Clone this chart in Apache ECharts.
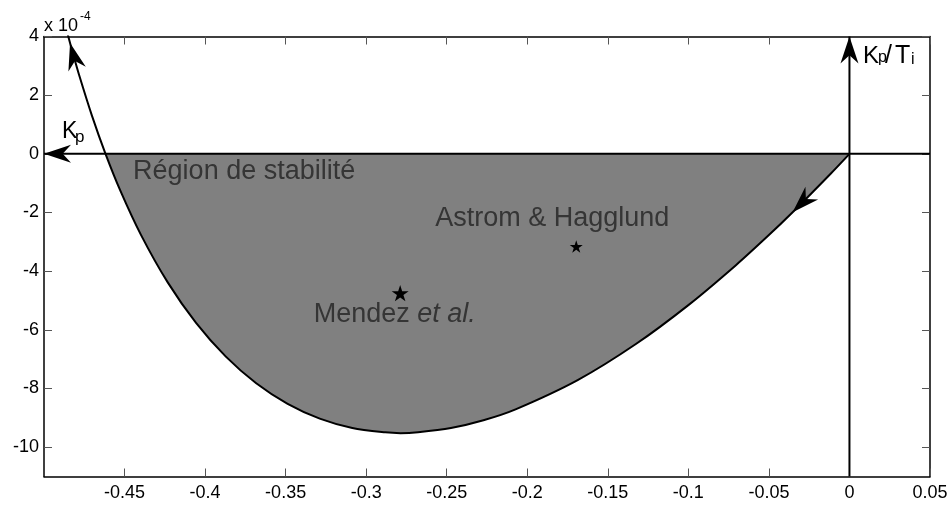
<!DOCTYPE html>
<html>
<head>
<meta charset="utf-8">
<script src="https://cdn.jsdelivr.net/npm/echarts@6.0.0/dist/echarts.min.js"></script>
<style>html,body{margin:0;padding:0;background:#fff}#c{width:950px;height:505px}</style>
</head>
<body>
<div id="c"></div>
<script>
// ---- data (Kp on x, Kp/Ti on y in units of 1e-4) ----
const curveX = [-0.48535, -0.48383, -0.48230, -0.47839, -0.47020, -0.46182, -0.45255, -0.43989, -0.42319, -0.40561,
                -0.38726, -0.36827, -0.34875, -0.32882, -0.30861, -0.28821, -0.27870, -0.26778, -0.24739, -0.22719,
                -0.20727, -0.16872, -0.13258, -0.09960, -0.07048, -0.05035, -0.03528, -0.01168, 0];
const curveY = [4.089, 3.778, 3.470, 2.719, 1.293, 0, -1.263, -2.753, -4.383, -5.763,
                -6.905, -7.821, -8.523, -9.027, -9.346, -9.495, -9.522, -9.490, -9.347, -9.082,
                -8.711, -7.714, -6.484, -5.140, -3.796, -2.787, -1.991, -0.678, 0];
const arrowIdx = [1, 26];                 // curve points where the direction arrows sit
const starX = [-0.1696, -0.2789];
const starY = [-3.16, -4.75];
const annoText = ['Région de stabilité', 'Astrom & Hagglund', 'Mendez et al.'];
const annoX = [-0.4447, -0.1845, -0.2823];
const annoY = [-0.61, -2.22, -5.49];
const xTicks = [-0.45, -0.4, -0.35, -0.3, -0.25, -0.2, -0.15, -0.1, -0.05, 0, 0.05];
const yTicks = [-10, -8, -6, -4, -2, 0, 2, 4];
const X_MIN = -0.5, X_MAX = 0.05, Y_MIN = -11, Y_MAX = 4;

// ---- styles ----
const FONT = '"Liberation Sans", Arial, sans-serif';
const ARROW = 'path://M0,0L9,26L0,18L-9,26Z';
const ARROW_SIZE = [18, 27];
const STAR = 'path://M0,-50L11.23,-15.45L47.55,-15.45L18.16,5.9L29.39,40.45L0,19.1L-29.39,40.45L-18.16,5.9L-47.55,-15.45L-11.23,-15.45Z';
const STAR_SIZES = [13, 17];
const ANNO_ALIGN = ['left', 'center', 'center'];

const curveData = curveX.map((x, i) => [x, curveY[i]]);
const fillData = curveData.filter(p => p[1] <= 0);

function xAxisDef(pos, showLabel) {
  return {
    type: 'value', position: pos, min: X_MIN, max: X_MAX,
    axisLine: { show: true, onZero: false, lineStyle: { color: '#000', width: 1.5 } },
    axisTick: { show: true, inside: true, length: 8, customValues: xTicks, lineStyle: { color: '#555', width: 1 } },
    axisLabel: { show: showLabel, customValues: xTicks, formatter: v => String(v), color: '#000',
                 fontSize: 18, fontFamily: FONT, margin: 8 },
    splitLine: { show: false }
  };
}
function yAxisDef(pos, showLabel) {
  return {
    type: 'value', position: pos, min: Y_MIN, max: Y_MAX,
    axisLine: { show: true, onZero: false, lineStyle: { color: '#000', width: 1.5 } },
    axisTick: { show: true, inside: true, length: 8, customValues: yTicks, lineStyle: { color: '#555', width: 1 } },
    axisLabel: { show: showLabel, customValues: yTicks, formatter: v => String(v), color: '#000',
                 fontSize: 18, fontFamily: FONT, margin: 5 },
    splitLine: { show: false }
  };
}
function txt(x, y, text, size) {
  return { type: 'text', x: x, y: y, silent: true,
           style: { text: text, font: size + 'px ' + FONT, fill: '#000',
                    verticalAlign: 'middle', textVerticalAlign: 'middle' } };
}

const chart = echarts.init(document.getElementById('c'));
chart.setOption({
  animation: false,
  backgroundColor: '#fff',
  grid: { left: 44, right: 20, top: 36.5, bottom: 28.5, containLabel: false, outerBoundsMode: 'none' },
  xAxis: [xAxisDef('bottom', true), xAxisDef('top', false)],
  yAxis: [yAxisDef('left', true), yAxisDef('right', false)],
  graphic: [
    txt(44, 26, 'x 10', 18), txt(80, 16.5, '-4', 12),
    txt(62, 132, 'K', 23), txt(75, 137, 'p', 17),
    txt(863, 56.3, 'K', 24), txt(878, 58, 'p', 16), txt(885, 56.3, '/', 25),
    txt(895, 56.3, 'T', 25), txt(911, 59.5, 'i', 16)
  ],
  series: [
    { type: 'line', data: fillData, smooth: 0.3, symbol: 'none', silent: true, z: 1,
      lineStyle: { width: 0, opacity: 0 }, areaStyle: { color: '#808080', opacity: 1, origin: 'auto' } },
    { type: 'line', data: curveData, smooth: 0.3, symbol: 'none', silent: true, z: 3,
      lineStyle: { color: '#000', width: 2 } },
    { type: 'line', data: [[X_MAX, 0], [X_MIN, 0]], symbol: 'none', silent: true, z: 4,
      lineStyle: { color: '#000', width: 2 } },
    { type: 'line', data: [[0, Y_MIN], [0, Y_MAX]], symbol: 'none', silent: true, z: 4,
      lineStyle: { color: '#000', width: 2 } },
    { type: 'scatter', symbol: STAR, symbolKeepAspect: true, silent: true, z: 5,
      itemStyle: { color: '#000', opacity: 1 },
      data: starX.map((x, i) => ({ value: [x, starY[i]], symbolSize: STAR_SIZES[i] })) },
    { type: 'scatter', symbolSize: 1, silent: true, z: 6,
      itemStyle: { color: 'rgba(0,0,0,0)' },
      label: { show: true, position: 'inside', color: '#222', fontSize: 27, fontFamily: FONT,
               verticalAlign: 'middle',
               formatter: p => annoText[p.dataIndex].replace('et al.', '{i|et al.}'),
               rich: { i: { fontSize: 27, fontFamily: FONT, fontStyle: 'italic', color: '#222' } } },
      data: annoX.map((x, i) => ({ value: [x, annoY[i]], label: { align: ANNO_ALIGN[i] } })) },
    { id: 'arrows', type: 'scatter', symbol: ARROW, symbolSize: ARROW_SIZE, clip: false, silent: true, z: 7,
      itemStyle: { color: '#000', opacity: 1 }, data: [] }
  ]
});

const toPx = p => chart.convertToPixel({ xAxisIndex: 0, yAxisIndex: 0 }, p);
function arrowItem(tip, from, to) {
  const a = toPx(to), b = toPx(from);
  let dx = a[0] - b[0], dy = a[1] - b[1];
  const n = Math.hypot(dx, dy); dx /= n; dy /= n;
  return { value: tip, symbolRotate: Math.atan2(-dx, -dy) * 180 / Math.PI,
           symbolOffset: [-dx * ARROW_SIZE[1] / 2, -dy * ARROW_SIZE[1] / 2] };
}
const arrows = arrowIdx.map(i => arrowItem(curveData[i], curveData[i + 1], curveData[i - 1]));
arrows.push(arrowItem([X_MIN, 0], [X_MAX, 0], [X_MIN, 0]));
arrows.push(arrowItem([0, Y_MAX], [0, Y_MIN], [0, Y_MAX]));
chart.setOption({ series: [{ id: 'arrows', data: arrows }] });
</script>
</body>
</html>
